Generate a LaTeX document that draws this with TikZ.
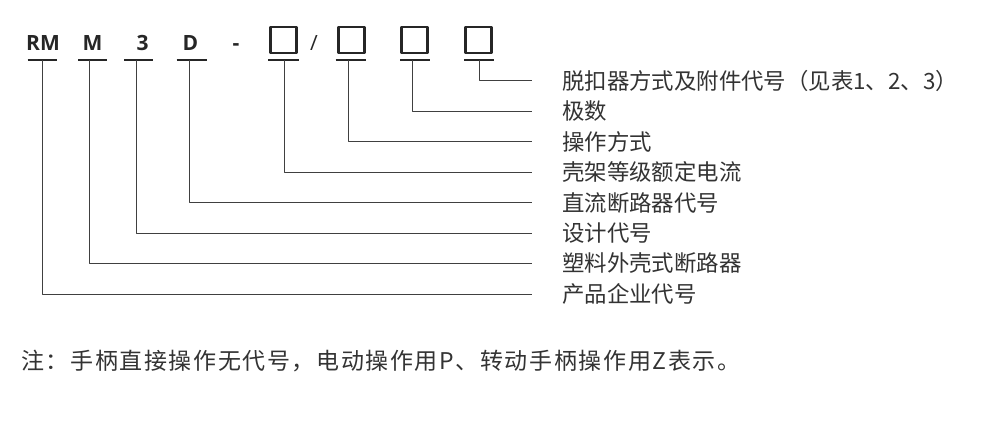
\documentclass[tikz,border=0pt]{standalone}
\usepackage{fontspec}
\setmainfont{Noto Sans CJK SC}
\newfontfamily\codefont{Open Sans}
\usetikzlibrary{positioning}

\begin{document}
\begin{tikzpicture}[x=1pt,y=-1pt,line join=round,
  code/.style={font=\codefont\bfseries\fontsize{21}{25}\selectfont,anchor=base,inner sep=0,text=black!85},
  slot/.style={draw=black!85,line width=2.5pt,minimum size=26pt,inner sep=0},
  uline/.style={line width=2.4pt,black!85},
  wire/.style={line width=1pt,black!75},
  lbl/.style={font=\fontsize{22.4}{26}\selectfont,anchor=west,inner sep=0,text height=19.4pt,text depth=2.6pt,text=black!80}]
\fill[white] (0,0) rectangle (990,442);
\useasboundingbox (0,0) rectangle (990,442);
\node[code] (rm)   at (43,50)    {RM};
\node[code] (m)    at (92.5,50)  {M};
\node[code] (three) at (142.5,50) {3};
\node[code] (d)    at (190.5,50) {D};
\node[code] (dash) at (236,50)   {-};
\node[slot] (frame) at (283.5,40.2) {};
\node[code,font=\codefont\fontsize{21}{25}\selectfont] (slash) at (314,50) {/};
\node[slot] (oper) at (351.5,40.2) {};
\node[slot] (pole) at (414.5,40.2) {};
\node[slot] (trip) at (478.5,40.2) {};
\draw[uline] (27.7,60) -- (57.3,60) (78.3,60) -- (106.7,60) (124,60) -- (153,60) (176.7,60) -- (206.7,60)
  (268,60) -- (299,60) (335.5,60) -- (366,60) (400,60) -- (430,60) (464,60) -- (494,60);
\coordinate (rm-u)    at (42,60);
\coordinate (m-u)     at (89.5,60);
\coordinate (three-u) at (136,60);
\coordinate (d-u)     at (189,60);
\coordinate (frame-u) at (284,60);
\coordinate (oper-u)  at (348.5,60);
\coordinate (pole-u)  at (412,60);
\coordinate (trip-u)  at (479,60);
\node[lbl] (l-trip)  at (562,80.7)  {脱扣器方式及附件代号（见表1、2、3）};
\node[lbl] (l-pole)  at (562,111.2) {极数};
\node[lbl] (l-oper)  at (562,141.6) {操作方式};
\node[lbl] (l-frame) at (562,172.1) {壳架等级额定电流};
\node[lbl] (l-d)     at (562,202.6) {直流断路器代号};
\node[lbl] (l-three) at (562,233)   {设计代号};
\node[lbl] (l-m)     at (562,263.5) {塑料外壳式断路器};
\node[lbl] (l-rm)    at (562,294)   {产品企业代号};
\draw[wire] (trip-u)  |- ([xshift=-30pt]l-trip.west);
\draw[wire] (pole-u)  |- ([xshift=-30pt]l-pole.west);
\draw[wire] (oper-u)  |- ([xshift=-30pt]l-oper.west);
\draw[wire] (frame-u) |- ([xshift=-30pt]l-frame.west);
\draw[wire] (d-u)     |- ([xshift=-30pt]l-d.west);
\draw[wire] (three-u) |- ([xshift=-30pt]l-three.west);
\draw[wire] (m-u)     |- ([xshift=-30pt]l-m.west);
\draw[wire] (rm-u)    |- ([xshift=-30pt]l-rm.west);
\node[lbl,font=\fontsize{23}{26}\selectfont\addfontfeature{LetterSpace=7}] (note) at (21,361)
  {注：手柄直接操作无代号，电动操作用P、转动手柄操作用Z表示。};
\end{tikzpicture}
\end{document}
